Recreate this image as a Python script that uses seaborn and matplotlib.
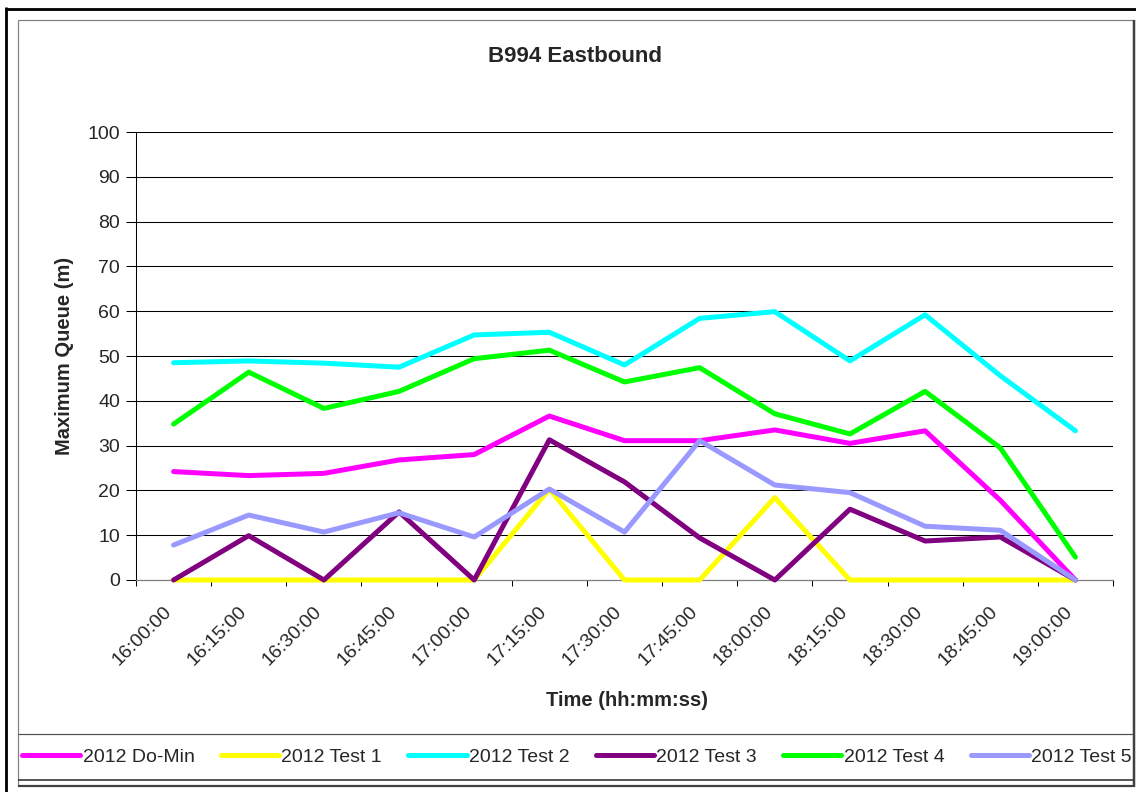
import numpy as np
import pandas as pd
import matplotlib
matplotlib.use("Agg")
import matplotlib.pyplot as plt
import matplotlib.transforms as mtransforms
from matplotlib.patches import Rectangle
from matplotlib.lines import Line2D
import seaborn as sns

# ---- data -------------------------------------------------------------
times = ["16:00:00", "16:15:00", "16:30:00", "16:45:00", "17:00:00",
         "17:15:00", "17:30:00", "17:45:00", "18:00:00", "18:15:00",
         "18:30:00", "18:45:00", "19:00:00"]

do_min = [24.2, 23.3, 23.8, 26.8, 28.0, 36.6, 31.1, 31.1, 33.5, 30.5, 33.3, 17.8, 0.0]
test_1 = [0.0, 0.0, 0.0, 0.0, 0.0, 20.3, 0.0, 0.0, 18.4, 0.0, 0.0, 0.0, 0.0]
test_2 = [48.5, 48.9, 48.4, 47.5, 54.7, 55.3, 48.0, 58.4, 59.9, 48.9, 59.2, 45.6, 33.3]
test_3 = [0.0, 9.9, 0.0, 15.2, 0.0, 31.3, 21.9, 9.4, 0.0, 15.8, 8.7, 9.6, 0.0]
test_4 = [34.8, 46.4, 38.3, 42.1, 49.4, 51.3, 44.2, 47.4, 37.1, 32.6, 42.1, 29.5, 5.1]
test_5 = [7.8, 14.5, 10.7, 15.0, 9.6, 20.3, 10.7, 31.1, 21.2, 19.5, 12.0, 11.1, 0.0]

series_names = ["2012 Do-Min", "2012 Test 1", "2012 Test 2",
                "2012 Test 3", "2012 Test 4", "2012 Test 5"]
series_values = [do_min, test_1, test_2, test_3, test_4, test_5]
series_colors = ["#FF00FF", "#FFFF00", "#00FFFF", "#800080", "#00FF00", "#9999FF"]

y_ticks = list(range(0, 101, 10))

df = pd.DataFrame({
    "Time": [t for _ in series_names for t in times],
    "Series": [n for n in series_names for _ in times],
    "Queue": [v for vals in series_values for v in vals],
})

# ---- style ------------------------------------------------------------
sns.set_theme(style="white")
plt.rcParams["font.family"] = ["Liberation Sans", "DejaVu Sans"]

W, H = 1136, 792
fig = plt.figure(figsize=(W / 100, H / 100), dpi=100)
fig.patch.set_facecolor("white")


def fx(px):
    return px / W


def fy(py):
    return 1 - py / H


ax_l, ax_r, ax_t, ax_b = 136, 1113, 132, 580
ax = fig.add_axes([fx(ax_l), fy(ax_b), (ax_r - ax_l) / W, (ax_b - ax_t) / H])
ax.set_facecolor("white")

sns.lineplot(data=df, x="Time", y="Queue", hue="Series",
             hue_order=series_names,
             palette=dict(zip(series_names, series_colors)),
             sort=False, estimator=None, errorbar=None,
             linewidth=3.6, clip_on=False, zorder=4, ax=ax)

# ---- axes -------------------------------------------------------------
ax.set_xlim(-0.5, len(times) - 0.5)
ax.set_ylim(0, 100)
ax.set_yticks(y_ticks)
ax.set_xticks(range(len(times)))
ax.set_xticklabels(times)
ax.set_xticks(np.arange(-0.5, len(times), 1.0), minor=True)

ax.grid(axis="y", color="black", linewidth=0.75)
ax.grid(axis="x", visible=False)
ax.set_axisbelow(True)

for side in ("top", "right"):
    ax.spines[side].set_visible(False)
ax.spines["left"].set_color("black")
ax.spines["left"].set_linewidth(0.75)
ax.spines["bottom"].set_color("#808080")
ax.spines["bottom"].set_linewidth(0.9)

ax.tick_params(axis="y", which="major", length=7.2, width=0.75, pad=4.3,
               labelsize=14, color="black", left=True, direction="out")
ax.tick_params(axis="x", which="major", length=0, pad=21.0, labelsize=14,
               bottom=True)
ax.tick_params(axis="x", which="minor", length=4.5, width=0.75,
               color="black", bottom=True, direction="out")

shift = mtransforms.ScaledTranslation(-5 / 100, 0, fig.dpi_scale_trans)
for lbl in ax.get_xticklabels():
    lbl.set_rotation(45)
    lbl.set_ha("right")
    lbl.set_va("center")
    lbl.set_rotation_mode("anchor")
    lbl.set_transform(lbl.get_transform() + shift)

ax.set_xlabel("Time (hh:mm:ss)", fontsize=14.5, fontweight="bold", va="center")
ax.xaxis.set_label_coords((627 - ax_l) / (ax_r - ax_l), (ax_b - 701) / (ax_b - ax_t))
ax.set_ylabel("Maximum Queue (m)", fontsize=14.5, fontweight="bold", va="center")
ax.yaxis.set_label_coords((65 - ax_l) / (ax_r - ax_l), 0.5)

fig.text(fx(575.5), fy(56), "B994 Eastbound", fontsize=16, fontweight="bold",
         ha="center", va="center")

# ---- legend -------------------------------------------------------------
old = ax.get_legend()
handles = list(old.legend_handles)
labels = [t.get_text() for t in old.get_texts()]
old.remove()

leg = fig.legend(handles, labels, loc="center",
                 bbox_to_anchor=(fx(22), fy(780), (1132 - 22) / W, 46 / H),
                 mode="expand", ncol=6, frameon=False, fontsize=14,
                 handlelength=3.0, handletextpad=0.12, borderpad=0,
                 borderaxespad=0, columnspacing=0.5)
for h in leg.legend_handles:
    h.set_linewidth(3.6)

# ---- chart frames -------------------------------------------------------
def hline(x0, x1, y, lw_px, color):
    fig.add_artist(Line2D([fx(x0), fx(x1)], [fy(y), fy(y)], transform=fig.transFigure,
                          color=color, linewidth=lw_px * 0.72, solid_capstyle="butt"))


def vline(x, y0, y1, lw_px, color):
    fig.add_artist(Line2D([fx(x), fx(x)], [fy(y0), fy(y1)], transform=fig.transFigure,
                          color=color, linewidth=lw_px * 0.72, solid_capstyle="butt"))


# outer border
hline(5, W, 8.6, 2.8, "black")
vline(6.2, 7.2, H, 2.8, "black")
# chart area
hline(18, 1134, 20, 1.2, "#808080")
vline(18.3, 20, 786, 1.2, "#808080")
vline(1133.5, 20, 787, 2.5, "#404040")
hline(18, 1134.5, 786, 2.2, "#404040")
# legend box
hline(18, 1133, 734, 1.2, "#505050")
hline(18, 1133, 780.2, 1.6, "#303030")

fig.savefig("out.png", dpi=100, facecolor="white")
